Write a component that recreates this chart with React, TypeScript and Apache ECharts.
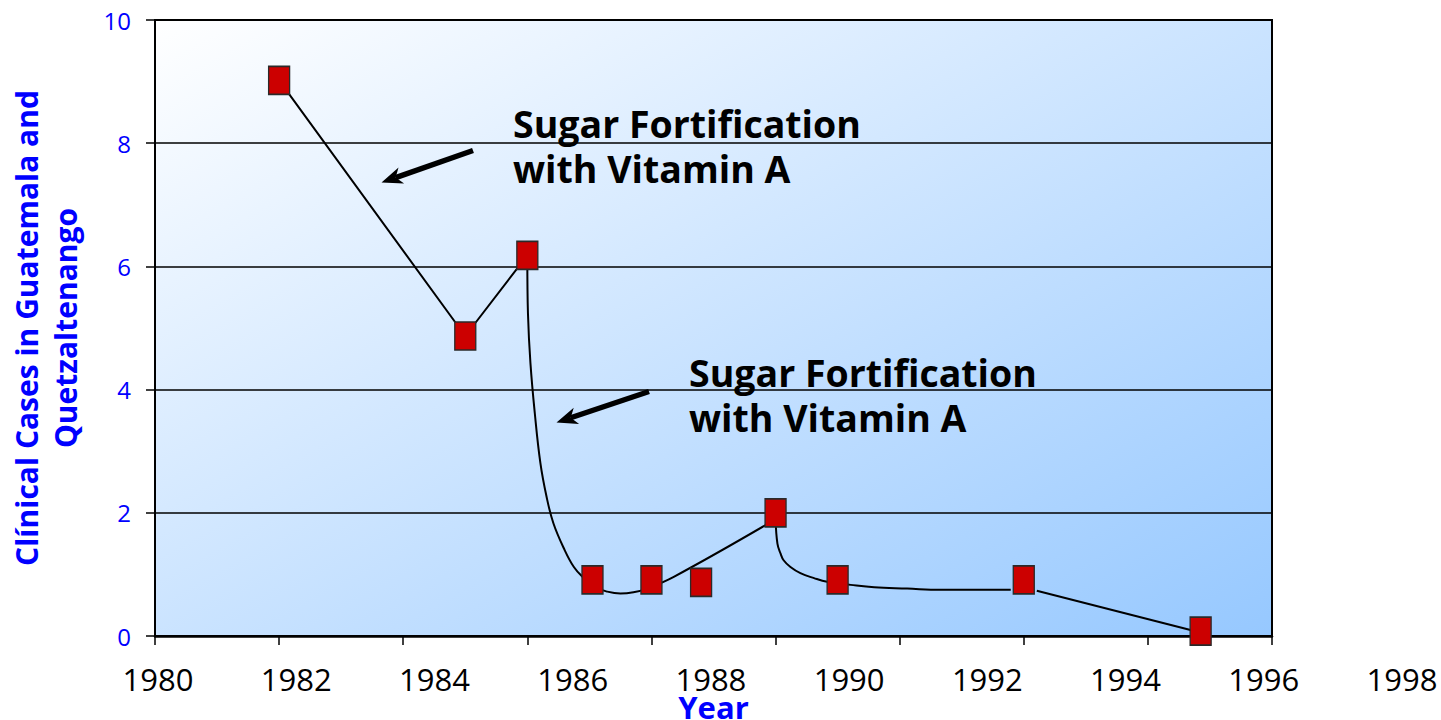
import React, { useEffect, useRef } from "react";
import * as echarts from "echarts";

// ---- data ----
const xTickLabels = ["1980", "1982", "1984", "1986", "1988", "1990", "1992", "1994", "1996", "1998"];
const markerYears = [1982, 1985, 1986, 1987.05, 1988, 1988.8, 1990, 1991, 1994, 1996.85];
const markerCases = [9.02, 4.87, 6.18, 0.91, 0.91, 0.87, 2.0, 0.91, 0.91, 0.08];

// hand-drawn trend line (freeform), traced in pieces
const trendAYears = [1982, 1985, 1986];
const trendACases = [9.02, 4.87, 6.18];
const trendBYears = [
  1986.0, 1986.01, 1986.05, 1986.12, 1986.21, 1986.31, 1986.42, 1986.59, 1986.75,
  1986.91, 1987.07, 1987.29, 1987.5, 1987.71, 1987.93, 1988.36, 1989.89,
];
const trendBCases = [
  6.1, 5.24, 4.43, 3.62, 2.81, 2.26, 1.83, 1.42, 1.12,
  0.94, 0.8, 0.72, 0.69, 0.71, 0.77, 0.96, 1.83,
];
const trendCYears = [
  1990.0, 1990.03, 1990.08, 1990.13, 1990.24, 1990.4, 1990.62, 1990.83,
  1991.21, 1991.59, 1992.12, 1992.66, 1993.2, 1993.79,
];
const trendCCases = [1.9, 1.5, 1.34, 1.23, 1.12, 1.02, 0.94, 0.88, 0.83, 0.79, 0.77, 0.75, 0.75, 0.75];
const trendDYears = [1994.21, 1996.75];
const trendDCases = [0.735, 0.08];

const annotationText = "Sugar Fortification\nwith Vitamin A";
const yTitle = "Clínical Cases in Guatemala and\nQuetzaltenango";
const xTitle = "Year";

const zip = (xs: number[], ys: number[]) => xs.map((x, i) => [x, ys[i]]);

const FONT = "'Open Sans', 'Noto Sans', sans-serif";

function arrow(tail: [number, number], tip: [number, number]) {
  const dx = tip[0] - tail[0];
  const dy = tip[1] - tail[1];
  const len = Math.hypot(dx, dy);
  const ux = dx / len, uy = dy / len;
  const nx = -uy, ny = ux;
  const headLen = 21, halfW = 8.5, notch = 15;
  const bx = tip[0] - headLen * ux, by = tip[1] - headLen * uy;
  const mx = tip[0] - notch * ux, my = tip[1] - notch * uy;
  return [
    {
      type: "line",
      shape: { x1: tail[0], y1: tail[1], x2: mx, y2: my },
      style: { stroke: "#000", lineWidth: 5.5 },
      z: 100,
    },
    {
      type: "polygon",
      shape: {
        points: [
          [tip[0], tip[1]],
          [bx + halfW * nx, by + halfW * ny],
          [mx, my],
          [bx - halfW * nx, by - halfW * ny],
        ],
      },
      style: { fill: "#000" },
      z: 100,
    },
  ];
}

function annotation(x: number, yCenter: number) {
  return {
    type: "text",
    x,
    y: yCenter,
    z: 100,
    style: {
      text: annotationText,
      fill: "#000",
      font: `bold 37.5px ${FONT}`,
      lineHeight: 44.5,
      align: "left",
      verticalAlign: "middle",
    },
  };
}

export default function App() {
  const ref = useRef<HTMLDivElement>(null);
  useEffect(() => {
    if (!ref.current) return;
    const chart = echarts.init(ref.current, null, { renderer: "svg" });
    const trendStyle = {
      type: "line",
      xAxisIndex: 0,
      yAxisIndex: 0,
      symbol: "none",
      showSymbol: false,
      lineStyle: { color: "#000", width: 2 },
      z: 3,
      silent: true,
    };
    chart.setOption({
      animation: false,
      backgroundColor: "#fff",
      grid: [
        {
          left: 155,
          top: 20,
          width: 1117,
          height: 616,
          show: true,
          outerBoundsMode: "none",
          containLabel: false,
          backgroundColor: new echarts.graphic.LinearGradient(0, 0, 1, 1, [
            { offset: 0, color: "#ffffff" },
            { offset: 1, color: "#96c8ff" },
          ]),
          borderColor: "#000",
          borderWidth: 2,
        },
        { left: 158, top: 20, width: 1244, height: 616, show: false, outerBoundsMode: "none", containLabel: false },
      ],
      xAxis: [
        {
          gridIndex: 0,
          type: "value",
          min: 1980,
          max: 1998,
          interval: 2,
          axisLine: { show: true, onZero: false, lineStyle: { color: "#000", width: 2.5 } },
          axisTick: { show: true, length: 9, lineStyle: { color: "#000", width: 1.5 } },
          axisLabel: { show: false },
          splitLine: { show: false },
          name: xTitle,
          nameLocation: "middle",
          nameGap: 58,
          nameTextStyle: { color: "#0000ff", fontSize: 31, fontWeight: "bold", fontFamily: FONT, lineHeight: 26 },
        },
        {
          gridIndex: 1,
          type: "category",
          data: xTickLabels,
          boundaryGap: false,
          axisLine: { show: false },
          axisTick: { show: false },
          splitLine: { show: false },
          axisLabel: { color: "#000", fontSize: 31, fontFamily: FONT, margin: 31, lineHeight: 24 },
        },
      ],
      yAxis: [
        {
          gridIndex: 0,
          type: "value",
          min: 0,
          max: 10,
          interval: 2,
          axisLine: { show: true, lineStyle: { color: "#000", width: 2 } },
          axisTick: { show: true, length: 9, lineStyle: { color: "#000", width: 1.5 } },
          axisLabel: { color: "#0000ff", fontSize: 24, fontFamily: FONT, margin: 24 },
          splitLine: { show: true, lineStyle: { color: "#000", width: 1.5 } },
          name: yTitle,
          nameLocation: "middle",
          nameRotate: 90,
          nameGap: 70,
          nameTextStyle: {
            color: "#0000ff",
            fontSize: 30,
            fontWeight: "bold",
            fontFamily: FONT,
            lineHeight: 39,
          },
        },
        { gridIndex: 1, type: "value", show: false, min: 0, max: 10 },
      ],
      series: [
        { ...trendStyle, name: "trendA", data: zip(trendAYears, trendACases), smooth: false },
        { ...trendStyle, name: "trendB", data: zip(trendBYears, trendBCases), smooth: 0.4 },
        { ...trendStyle, name: "trendC", data: zip(trendCYears, trendCCases), smooth: 0.4 },
        { ...trendStyle, name: "trendD", data: zip(trendDYears, trendDCases), smooth: false },
        {
          type: "scatter",
          name: "Clinical cases",
          xAxisIndex: 0,
          yAxisIndex: 0,
          symbol: "rect",
          symbolSize: [21, 28],
          itemStyle: { color: "#cc0000", borderColor: "#2a2a2a", borderWidth: 1.5, opacity: 1 },
          data: zip(markerYears, markerCases),
          z: 5,
        },
      ],
      graphic: [
        ...arrow([473, 150.5], [381.5, 182.5]),
        ...arrow([649, 391.5], [556.5, 422.5]),
        annotation(513, 146),
        annotation(689, 395),
      ],
    });
    return () => chart.dispose();
  }, []);
  return (
    <div
      ref={ref}
      style={{ position: "absolute", left: 0, top: 0, width: 1441, height: 720 }}
    />
  );
}
